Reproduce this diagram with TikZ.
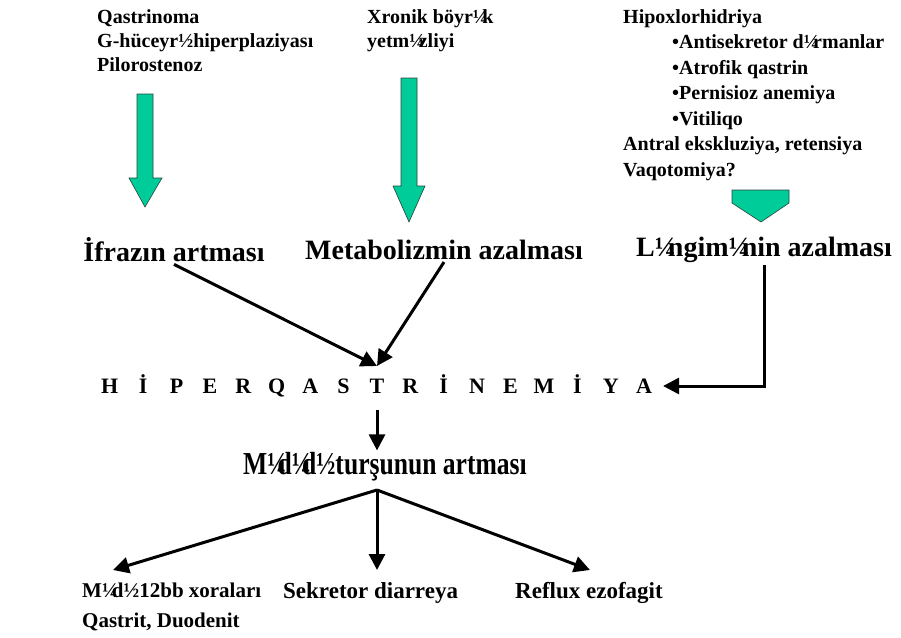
\documentclass[tikz,border=0pt]{standalone}
\usepackage{fontspec}
\setmainfont{Liberation Serif}
\newfontfamily\narrowfont[FakeStretch=0.8]{Liberation Serif}
\usetikzlibrary{arrows.meta,positioning,calc}
\usepackage{xcolor}
\definecolor{gastgreen}{RGB}{0,204,153}
\definecolor{gastedge}{RGB}{40,70,60}
\newcommand\hqbox[1]{\makebox[33.4pt]{#1}}
\newcommand\qt{¼\kern-.28em}

\begin{document}
\begin{tikzpicture}[x=1pt, y=-1pt,
  sm/.style={font=\fontsize{20}{24}\selectfont\bfseries, inner sep=0pt, align=left},
  bt/.style={font=\fontsize{23}{30}\selectfont\bfseries, inner sep=0pt, align=left},
  md/.style={font=\fontsize{28}{30}\selectfont\bfseries, inner sep=2pt},
  ttl/.style={font=\fontsize{32}{36}\selectfont\narrowfont\bfseries, inner sep=2pt},
  arr/.style={-{Triangle[length=16pt,width=16pt]}, line width=3pt},
  blk/.style={fill=gastgreen, draw=gastedge, line width=0.6pt}]
\useasboundingbox[fill=white] (0,0) rectangle (901,637);
% causes
\node[sm, anchor=north west] (qas) at (97,9) {Qastrinoma\\G-hüceyr½hiperplaziyası\\Pilorostenoz};
\node[sm, anchor=north west] (xro) at (367,9) {Xronik böyr\qt k\\yetm\qt zliyi};
\node[sm, anchor=north west, font=\fontsize{20}{25.5}\selectfont\bfseries] (hip) at (623,9) {Hipoxlorhidriya\\
  \hspace*{49pt}•Antisekretor d\qt rmanlar\\
  \hspace*{49pt}•Atrofik qastrin\\
  \hspace*{49pt}•Pernisioz anemiya\\
  \hspace*{49pt}•Vitiliqo\\
  Antral ekskluziya, retensiya\\
  Vaqotomiya?};
% green block arrows
\draw[blk] (137,94) -- (153,94) -- (153,178) -- (162,178) -- (145,207) -- (129,178) -- (137,178) -- cycle;
\draw[blk] (401,78) -- (417,78) -- (417,186) -- (425,186) -- (409,222) -- (393,186) -- (401,186) -- cycle;
\draw[blk] (732,190) -- (789,190) -- (789,203) -- (761,222) -- (732,203) -- cycle;
% middle level
\node[md] (ifr) at (174,250) {İfrazın artması};
\node[md] (met) at (444,250) {Metabolizmin azalması};
\node[md] (lng) at (764,250) {L\qt ngim\qt nin azalması};
\node[font=\fontsize{22}{24}\selectfont\bfseries, inner sep=2pt] (hq) at (377,386)
  {\hqbox{H}\hqbox{İ}\hqbox{P}\hqbox{E}\hqbox{R}\hqbox{Q}\hqbox{A}\hqbox{S}\hqbox{T}\hqbox{R}\hqbox{İ}\hqbox{N}\hqbox{E}\hqbox{M}\hqbox{İ}\hqbox{Y}\hqbox{A}};
\coordinate (hqtop) at (377,366);
\coordinate (hqbot) at (377,410);
\draw[arr] (ifr.south) -- (hqtop);
\draw[arr] (met.south) -- (hqtop);
\draw[arr] (lng.south) |- (hq.east);
% result
\node[ttl] (mta) at (385,467) {M\qt d\qt d½turşunun artması};
\draw[arr] (hqbot) -- (mta.north -| hqbot);
\node[bt, anchor=north west, font=\fontsize{21}{30}\selectfont\bfseries] (ulc) at (82,583) {M\qt d½12bb xoraları\\Qastrit, Duodenit};
\node[bt, anchor=north west] (sd) at (283,582) {Sekretor diarreya};
\node[bt, anchor=north west] (rfx) at (515,582) {Reflux ezofagit};
\coordinate (apex) at (377,490);
\coordinate (tipU) at (113,570);
\coordinate (tipS) at (377,570);
\coordinate (tipR) at (590,570);
\draw[arr] (apex) -- (tipU);
\draw[arr] (apex) -- (tipS);
\draw[arr] (apex) -- (tipR);
\end{tikzpicture}
\end{document}
